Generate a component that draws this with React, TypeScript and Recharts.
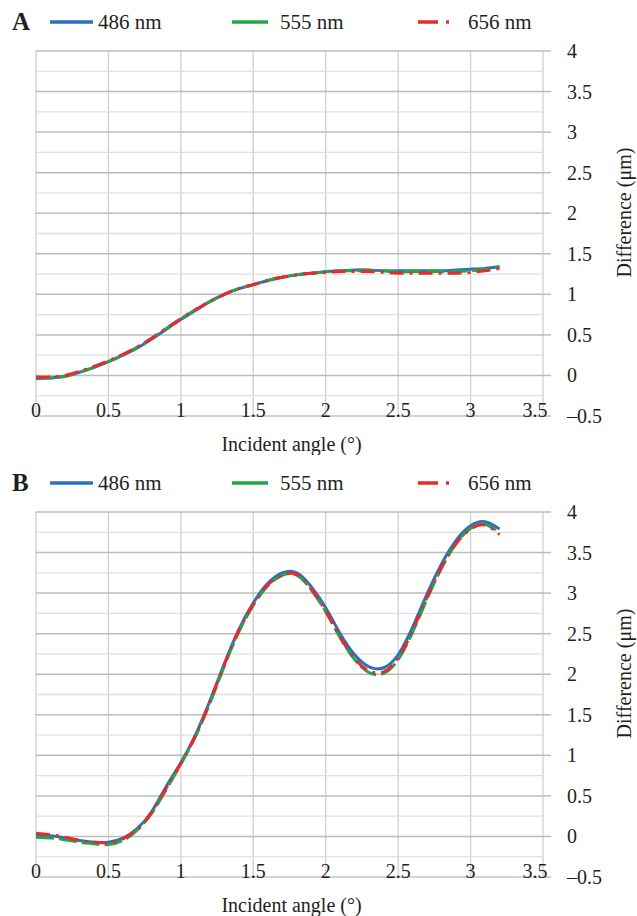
import React from "react";
import { LineChart, Line, XAxis, YAxis, CartesianGrid, ReferenceLine, Label } from "recharts";

// incident angle samples (deg)
const angles = [0, 0.1, 0.2, 0.3, 0.4, 0.5, 0.6, 0.7, 0.8, 0.9, 1.0, 1.1, 1.2, 1.3, 1.4, 1.5, 1.6, 1.7, 1.8, 1.9, 2.0, 2.1, 2.2, 2.3, 2.4, 2.5, 2.6, 2.7, 2.8, 2.9, 3.0, 3.1, 3.2];

// panel A
const a486 = [-0.04, -0.03, -0.01, 0.04, 0.1, 0.17, 0.25, 0.34, 0.45, 0.57, 0.69, 0.8, 0.91, 1.0, 1.07, 1.12, 1.17, 1.21, 1.24, 1.26, 1.28, 1.29, 1.3, 1.3, 1.29, 1.29, 1.29, 1.29, 1.29, 1.3, 1.31, 1.32, 1.34];
const a555 = [-0.03, -0.03, -0.01, 0.04, 0.1, 0.17, 0.25, 0.35, 0.46, 0.58, 0.7, 0.81, 0.91, 1.0, 1.07, 1.12, 1.17, 1.21, 1.24, 1.26, 1.28, 1.29, 1.29, 1.29, 1.29, 1.28, 1.28, 1.28, 1.28, 1.28, 1.29, 1.31, 1.34];
const a656 = [-0.02, -0.02, 0.0, 0.05, 0.11, 0.18, 0.26, 0.35, 0.46, 0.58, 0.7, 0.81, 0.91, 1.0, 1.07, 1.12, 1.17, 1.21, 1.24, 1.26, 1.27, 1.28, 1.28, 1.28, 1.27, 1.26, 1.26, 1.26, 1.26, 1.26, 1.27, 1.29, 1.32];

// panel B
const b486 = [0.02, 0.01, -0.02, -0.05, -0.07, -0.07, -0.02, 0.1, 0.31, 0.62, 0.91, 1.25, 1.67, 2.13, 2.55, 2.88, 3.12, 3.25, 3.25, 3.08, 2.82, 2.5, 2.24, 2.09, 2.08, 2.24, 2.58, 2.99, 3.36, 3.65, 3.83, 3.88, 3.79];
const b555 = [-0.01, -0.02, -0.04, -0.07, -0.09, -0.1, -0.05, 0.08, 0.29, 0.58, 0.89, 1.23, 1.64, 2.1, 2.52, 2.85, 3.09, 3.22, 3.22, 3.04, 2.77, 2.45, 2.18, 2.02, 2.01, 2.18, 2.52, 2.93, 3.31, 3.61, 3.8, 3.85, 3.74];
const b656 = [0.04, 0.02, -0.01, -0.05, -0.07, -0.08, -0.03, 0.09, 0.3, 0.6, 0.9, 1.24, 1.66, 2.12, 2.54, 2.86, 3.1, 3.22, 3.23, 3.05, 2.78, 2.46, 2.19, 2.04, 2.03, 2.2, 2.54, 2.95, 3.32, 3.61, 3.79, 3.84, 3.72];

const xTicks = [0, 0.5, 1, 1.5, 2, 2.5, 3, 3.5];
const yTicks = [-0.5, 0, 0.5, 1, 1.5, 2, 2.5, 3, 3.5, 4];
const yMinor = [-0.25, 0.25, 0.75, 1.25, 1.75, 2.25, 2.75, 3.25, 3.75];

const seriesNames = ["486 nm", "555 nm", "656 nm"];
const seriesColors = ["#2a6fc6", "#1fa84a", "#ea2a2a"];
const seriesDash = [undefined, "18 5", "14 6 3 6"];

const FONT = "Liberation Serif, Times New Roman, DejaVu Serif, serif";
const INK = "#231f20";
const txt = { fontFamily: FONT };

const W = 637;
const H = 455;

function buildRows(s1: number[], s2: number[], s3: number[]) {
  return angles.map((x, i) => ({ x, s486: s1[i], s555: s2[i], s656: s3[i] }));
}

const XTick = (props: any) => {
  const { x, y, payload } = props;
  const last = payload.value === 3.5;
  return (
    <text x={last ? x - 8 : x} y={y + 1} textAnchor="middle" fontSize={20} style={txt} fill={INK}>
      {payload.value}
    </text>
  );
};

const YTick = (props: any) => {
  const { x, y, payload } = props;
  return (
    <text x={x} y={y + 7} textAnchor="start" fontSize={20} style={txt} fill={INK}>
      {fmtY(payload.value)}
    </text>
  );
};

const fmtY = (v: number) => (v < 0 ? "\u2013" + Math.abs(v) : String(v));

function Legend({ letter }: { letter: string }) {
  const lines = [
    { x1: 50, x2: 93, tx: 98 },
    { x1: 232, x2: 268, tx: 280 },
    { x1: 418, x2: 452, tx: 468 },
  ];
  return (
    <svg width={W} height={44} style={{ position: "absolute", left: 0, top: 0 }}>
      <text x={12} y={30} fontSize={25} fontWeight="bold" style={txt} fill={INK}>
        {letter}
      </text>
      {lines.map((l, i) => (
        <g key={i}>
          <line x1={l.x1} x2={l.x2} y1={22} y2={22} stroke={seriesColors[i]} strokeWidth={3.5} strokeDasharray={i === 2 ? "20 8 3 8" : undefined} />
          <text x={l.tx} y={29} fontSize={21} style={txt} fill={INK}>
            {seriesNames[i]}
          </text>
        </g>
      ))}
    </svg>
  );
}

function Panel({ letter, rows, top }: { letter: string; rows: any[]; top: number }) {
  return (
    <div style={{ position: "absolute", left: 0, top, width: W, height: H }}>
      <LineChart width={W} height={H} data={rows} margin={{ top: 51, left: 36, right: 34, bottom: 9 }}>
        <CartesianGrid stroke="#cfcfcf" strokeWidth={1.3} horizontal={false} />
        {yMinor.map((v) => (
          <ReferenceLine key={v} y={v} stroke="#e0e0e0" strokeWidth={1.3} />
        ))}
        {yTicks.slice(1).map((v) => (
          <ReferenceLine key={"m" + v} y={v} stroke="#bcbcbc" strokeWidth={1.5} />
        ))}
        <XAxis
          dataKey="x"
          type="number"
          domain={[0, 3.5]}
          ticks={xTicks}
          interval={0}
          axisLine={{ stroke: "#c4c4c4", strokeWidth: 1.5 }}
          tickLine={false}
          tickSize={0}
          tickMargin={0}
          height={30}
          tick={<XTick />}
        >
          <Label
            content={(p: any) => {
              const vb = p.viewBox || { x: 36, y: 416, width: 507 };
              return (
                <text x={vb.x + vb.width / 2 + 2} y={vb.y + 35} textAnchor="middle" fontSize={20} style={txt} fill={INK}>
                  Incident angle (°)
                </text>
              );
            }}
          />
        </XAxis>
        <YAxis
          orientation="right"
          type="number"
          domain={[-0.5, 4]}
          ticks={yTicks}
          interval={0}
          width={60}
          axisLine={false}
          tickLine={{ stroke: "#bcbcbc", strokeWidth: 1.5 }}
          tickSize={8}
          tickMargin={16}
          tick={<YTick />}
        >
          <Label
            content={(p: any) => {
              const vb = p.viewBox || { x: 543, y: 51, width: 60, height: 365 };
              const cx = vb.x + 81;
              const cy = vb.y + vb.height / 2 - 21;
              return (
                <text x={cx} y={cy} transform={`rotate(-90 ${cx} ${cy})`} textAnchor="middle" dominantBaseline="central" fontSize={20} style={txt} fill={INK}>
                  Difference (μm)
                </text>
              );
            }}
          />
        </YAxis>
        <Line type="natural" dataKey="s486" name={seriesNames[0]} stroke={seriesColors[0]} strokeWidth={3} dot={false} isAnimationActive={false} />
        <Line type="natural" dataKey="s555" name={seriesNames[1]} stroke={seriesColors[1]} strokeWidth={3} strokeDasharray={seriesDash[1]} dot={false} isAnimationActive={false} />
        <Line type="natural" dataKey="s656" name={seriesNames[2]} stroke={seriesColors[2]} strokeWidth={3} strokeDasharray={seriesDash[2]} dot={false} isAnimationActive={false} />
      </LineChart>
      <Legend letter={letter} />
    </div>
  );
}

export default function App() {
  return (
    <div style={{ position: "absolute", left: 0, top: 0, width: W, height: 916, background: "#fff" }}>
      <Panel letter="A" rows={buildRows(a486, a555, a656)} top={0} />
      <Panel letter="B" rows={buildRows(b486, b555, b656)} top={461} />
    </div>
  );
}
